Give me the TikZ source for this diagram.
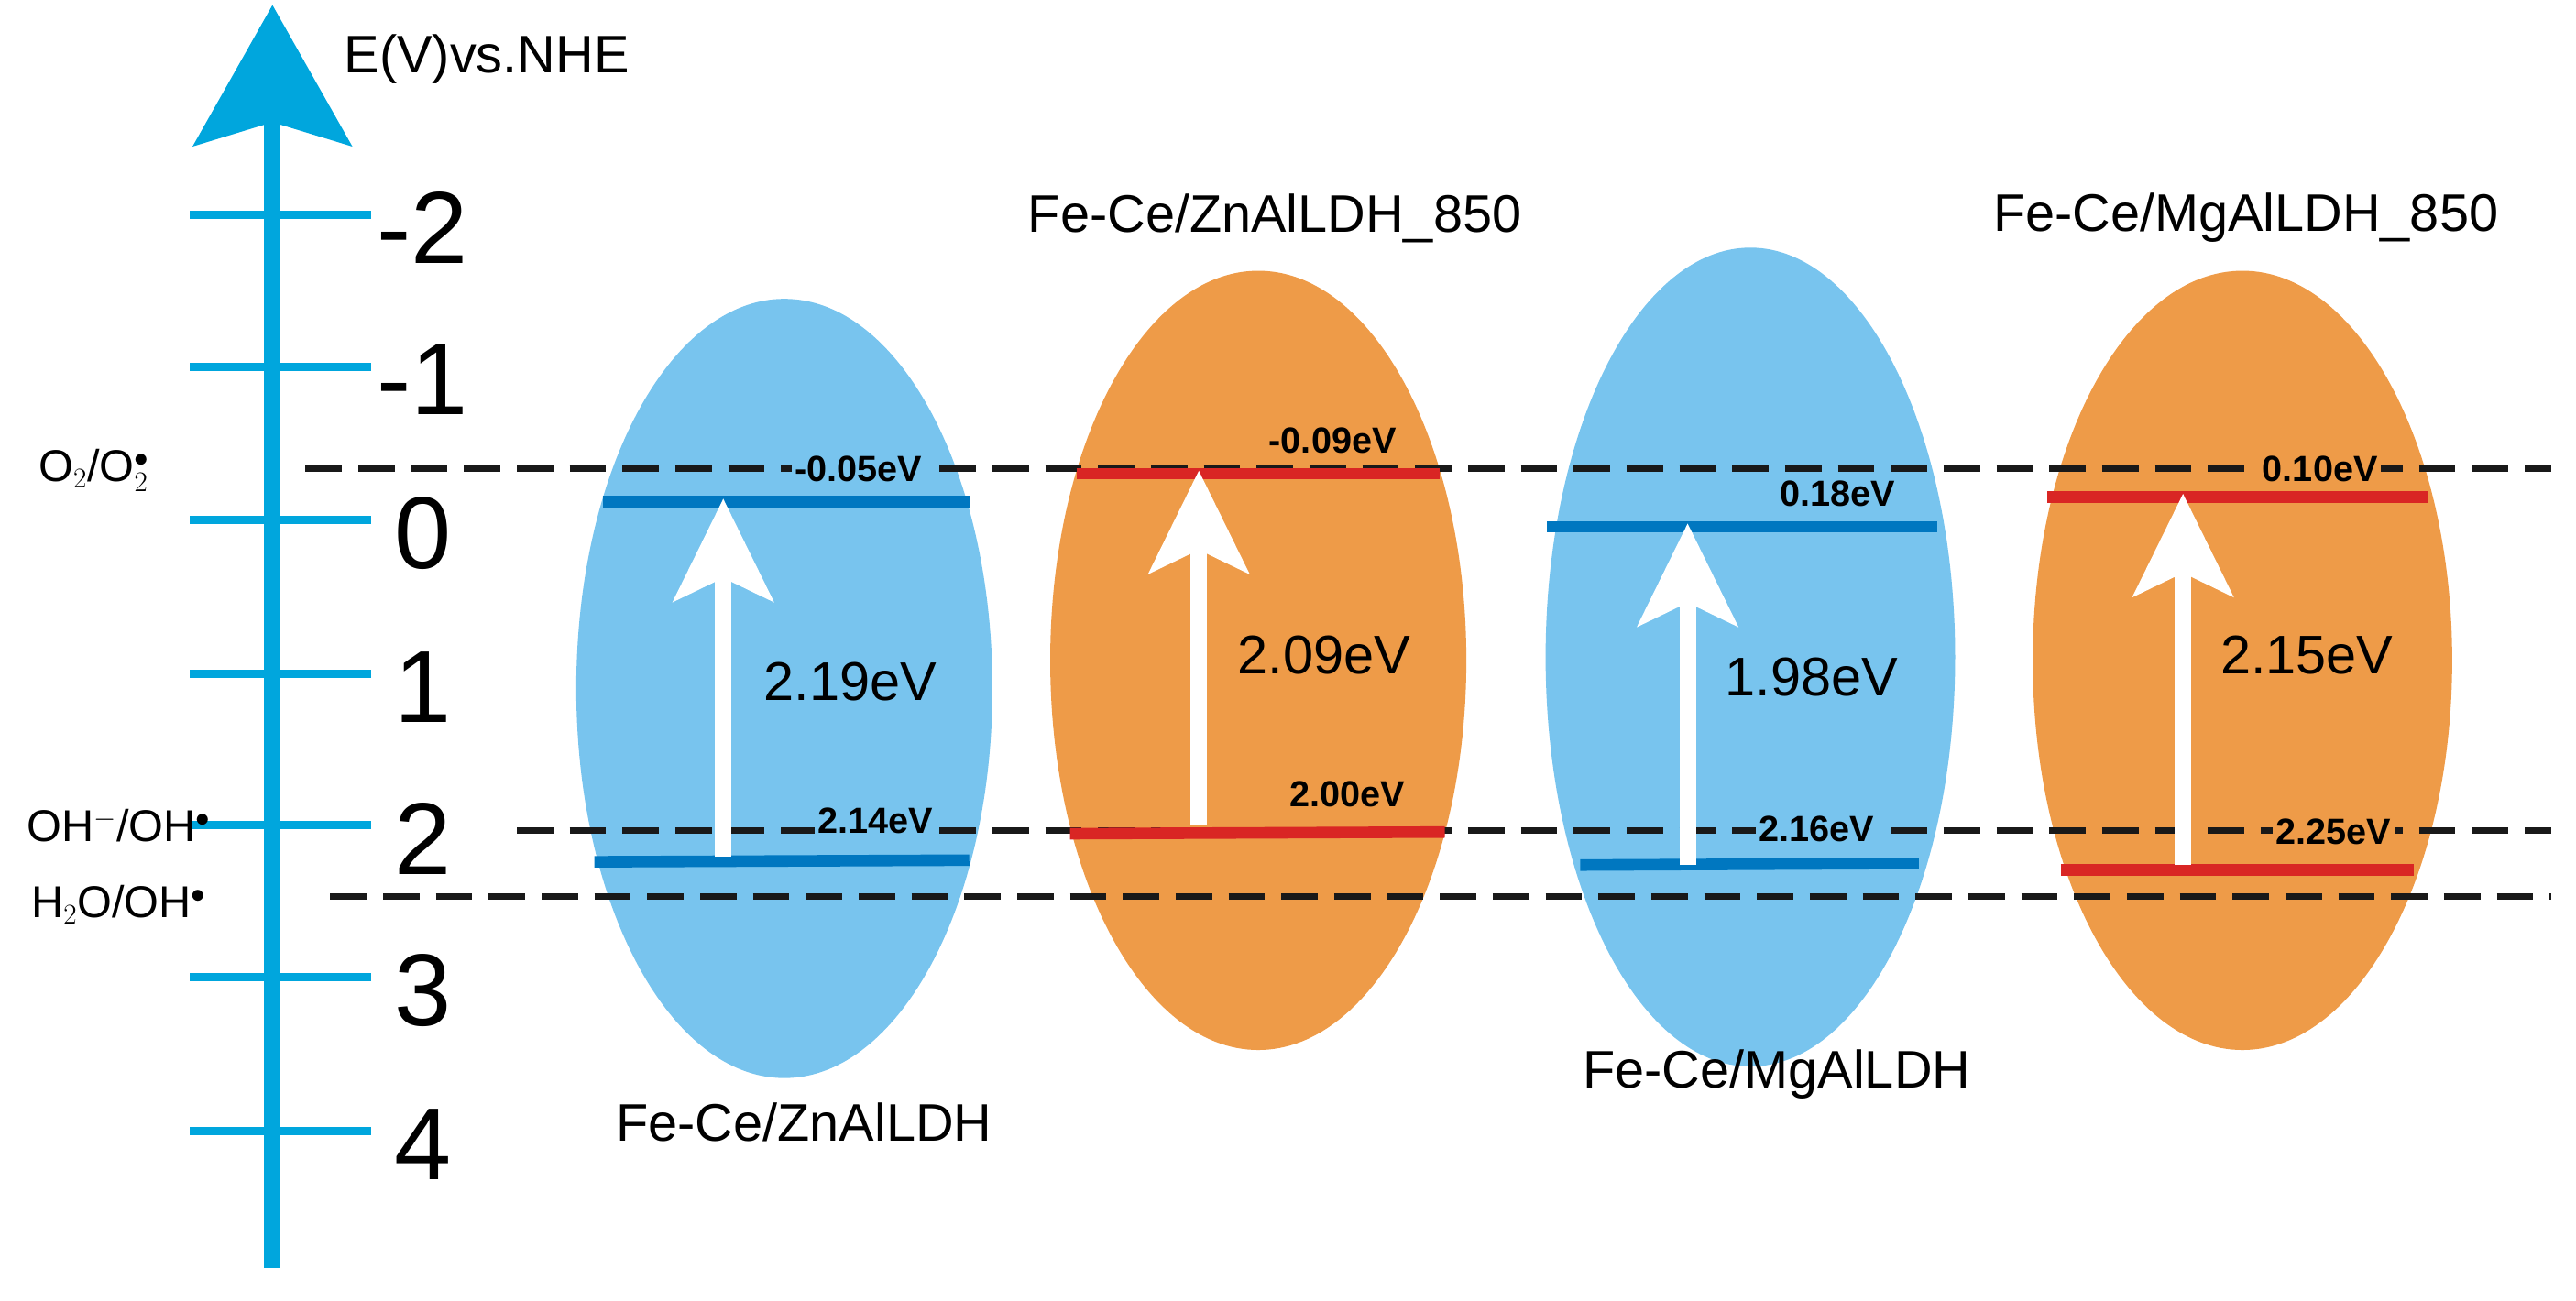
\documentclass[tikz,border=0pt]{standalone}
\usepackage{fontspec}
\setmainfont{Liberation Sans}
\usetikzlibrary{arrows.meta}
\definecolor{axblue}{HTML}{00A6DD}
\definecolor{elblue}{HTML}{78C4EE}
\definecolor{elor}{HTML}{EE9B48}
\definecolor{bandblue}{HTML}{0077C0}
\definecolor{bandred}{HTML}{D92624}
\tikzset{
 tick/.style={axblue,line width=5pt},
 ticklab/.style={font=\fontsize{62}{62}\selectfont,anchor=center},
 dashline/.style={black!90,line width=4pt,dash pattern=on 22pt off 10pt},
 band/.style={line width=7pt},
 small/.style={font=\fontsize{22}{22}\selectfont\bfseries,inner sep=2pt},
 gap/.style={font=\fontsize{33}{33}\selectfont},
 title/.style={font=\fontsize{32}{32}\selectfont},
 side/.style={font=\fontsize{27}{27}\selectfont},
 uparr/.style={white,line width=10pt,-{Stealth[width=60pt,length=62pt,inset=14pt]}},
}
\begin{document}
\begin{tikzpicture}[x=1pt,y=-1pt]
\useasboundingbox (0,0) rectangle (1560,788);
% ellipses
\fill[elblue] (475,417) ellipse [x radius=126,y radius=236];
\fill[elor] (762,400) ellipse [x radius=126,y radius=236];
\fill[elblue] (1060,398) ellipse [x radius=124,y radius=248];
\fill[elor] (1358,400) ellipse [x radius=127,y radius=236];
% axis
\coordinate (ab) at (165,768);
\coordinate (at) at (165,3);
\draw[axblue,line width=10pt,-{Stealth[width=95pt,length=85pt,inset=14pt]}] (ab) -- (at);
\node[title,anchor=west] (ytitle) at (205,36) {E(V)vs.NHE};
\foreach \v/\y in {-2/130,-1/222,0/315,1/408,2/500,3/592,4/685}{
  \draw[tick] (115,\y) -- (225,\y);
  \node[ticklab] (t\v) at (256,\y+8) {\v};
}
% dashed lines
\draw[dashline] (185,284) -- (1545,284);
\draw[dashline] (313,503) -- (1545,503);
\draw[dashline] (200,543) -- (1545,543);
% bands
\draw[band,bandblue] (365,304) -- (587,304);
\draw[band,bandblue] (360,522) -- (587,521);
\draw[band,bandred] (652,287) -- (872,287);
\draw[band,bandred] (648,505) -- (875,504);
\draw[band,bandblue] (937,319) -- (1173,319);
\draw[band,bandblue] (957,524) -- (1162,523);
\draw[band,bandred] (1240,301) -- (1470,301);
\draw[band,bandred] (1248,527) -- (1462,527);
% band labels
\node[small,fill=elblue] (l1) at (520,284) {-0.05eV};
\node[small,fill=elblue] (l2) at (530,497) {2.14eV};
\node[small] (l3) at (807,267) {-0.09eV};
\node[small] (l4) at (816,481) {2.00eV};
\node[small] (l5) at (1113,299) {0.18eV};
\node[small,fill=elblue] (l6) at (1100,502) {2.16eV};
\node[small,fill=elor] (l7) at (1405,284) {0.10eV};
\node[small,fill=elor] (l8) at (1413,504) {2.25eV};
% arrows
\coordinate (a1b) at (438,519); \coordinate (a1t) at (438,302);
\coordinate (a2b) at (726,500); \coordinate (a2t) at (726,285);
\coordinate (a3b) at (1022,524); \coordinate (a3t) at (1022,317);
\coordinate (a4b) at (1322,524); \coordinate (a4t) at (1322,299);
\draw[uparr] (a1b) -- (a1t);
\draw[uparr] (a2b) -- (a2t);
\draw[uparr] (a3b) -- (a3t);
\draw[uparr] (a4b) -- (a4t);
\node[gap] (g1) at (515,413) {2.19eV};
\node[gap] (g2) at (802,397) {2.09eV};
\node[gap] (g3) at (1097,410) {1.98eV};
\node[gap] (g4) at (1397,397) {2.15eV};
% titles
\node[title] (n2) at (772,132) {Fe-Ce/ZnAlLDH\_850};
\node[title] (n4) at (1360,132) {Fe-Ce/MgAlLDH\_850};
\node[title] (n1) at (487,680) {Fe-Ce/ZnAlLDH};
\node[title] (n3) at (1076,651) {Fe-Ce/MgAlLDH};
% side labels
\node[side] (s1) at (57,285) {O$_2$/O$_2^{\bullet}$};
\node[side] (s2) at (72,500) {OH$^{-}$/OH$^{\bullet}$};
\node[side] (s3) at (72,548) {H$_2$O/OH$^{\bullet}$};
\end{tikzpicture}
\end{document}
